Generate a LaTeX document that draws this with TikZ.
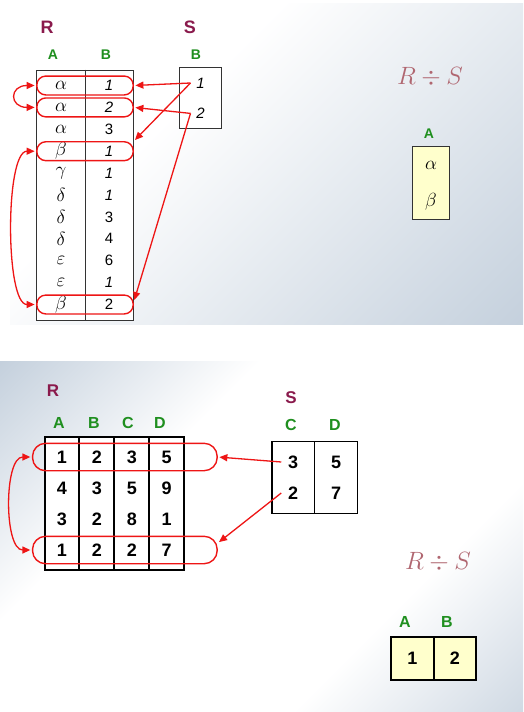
\documentclass[tikz,border=0pt]{standalone}
\usepackage{fix-cm}
\usepackage{fontspec}
\setmainfont{Liberation Sans}
\usetikzlibrary{chains,fit,positioning,arrows.meta,backgrounds}

\definecolor{relname}{HTML}{8A1A4C}
\definecolor{attrgreen}{HTML}{1F8F1F}
\definecolor{markred}{HTML}{EE1515}
\definecolor{divrose}{HTML}{B06670}
\definecolor{resyellow}{HTML}{FFFFCC}
\definecolor{panelblue}{HTML}{C3CFDC}
\definecolor{framegrey}{HTML}{333333}

\pgfdeclarehorizontalshading{toppanel}{100bp}{color(0bp)=(white); color(40bp)=(white); color(80bp)=(panelblue); color(100bp)=(panelblue)}
\pgfdeclarehorizontalshading{botpanel}{100bp}{color(0bp)=(panelblue); color(20bp)=(panelblue); color(38bp)=(white); color(64bp)=(white); color(80bp)=(panelblue!80); color(100bp)=(panelblue!80)}

\begin{document}
\begin{tikzpicture}[x=1pt,y=-1pt]

\tikzstyle{cell}=[inner sep=0pt,minimum width=48pt,minimum height=21.5pt,font=\fontsize{15}{15}\selectfont]
\tikzstyle{gcell}=[cell,font=\fontsize{19}{19}\selectfont]
\tikzstyle{scell}=[inner sep=0pt,minimum width=41pt,minimum height=30pt,font=\fontsize{15}{15}\selectfont]
\tikzstyle{bcell}=[inner sep=0pt,minimum width=34.5pt,minimum height=31pt,font=\fontsize{18}{18}\selectfont\bfseries]
\tikzstyle{tcell}=[inner sep=0pt,minimum width=42.5pt,minimum height=31pt,font=\fontsize{18}{18}\selectfont\bfseries]
\tikzstyle{relnametop}=[text=relname,font=\fontsize{18}{18}\selectfont\bfseries]
\tikzstyle{relnamebot}=[text=relname,font=\fontsize{17}{17}\selectfont\bfseries]
\tikzstyle{hdrtop}=[text=attrgreen,font=\fontsize{14}{14}\selectfont\bfseries]
\tikzstyle{hdrbot}=[text=attrgreen,font=\fontsize{16}{16}\selectfont\bfseries]
\tikzstyle{quotient}=[text=divrose,font=\fontsize{25}{25}\selectfont]
\tikzstyle{rowmark}=[draw=markred,line width=1.4pt,rounded corners=9pt,inner xsep=0pt,inner ysep=-1.5pt]
\tikzstyle{rowmarkbig}=[draw=markred,line width=1.4pt,rounded corners=13pt,inner xsep=22.5pt,inner ysep=-2pt,xshift=10.5pt]
\tikzstyle{markarrow}=[draw=markred,line width=1.3pt,-{Triangle[length=8pt,width=7pt]},shorten >=1.5pt]
\tikzstyle{bothtips}=[{Triangle[length=8pt,width=7pt]}-{Triangle[length=8pt,width=7pt]},shorten <=1.5pt]
\tikzstyle{colbox}=[draw,line width=2pt,inner xsep=0pt,inner ysep=4.5pt]

\useasboundingbox (0,0) rectangle (523,712);

%% panels
\begin{scope}[on background layer]
\begin{scope}
    \clip (10,3) rectangle (523,324);
    \shade[shading=toppanel,shading angle=-45] (10,-93) rectangle (523,420);
\end{scope}
\begin{scope}
    \clip (0,361) rectangle (523,712);
    \shade[shading=botpanel,shading angle=-45] (0,275) rectangle (523,798);
\end{scope}
\end{scope}

%% ---------- upper example ----------
\node (rtop) [relnametop] at (47,27) {R};
\node (stop) [relnametop] at (190,27) {S};
\node (hta) [hdrtop] at (53,55) {A};
\node (htb) [hdrtop] at (106,55) {B};
\node (hsb) [hdrtop] at (196,55) {B};

\begin{scope}[start chain=ra going below,node distance=0pt]
    \node (a1) [on chain=ra,gcell] at (61,85.5) {$\alpha$};
    \node (a2) [on chain=ra,gcell] {$\alpha$};
    \node (a3) [on chain=ra,gcell] {$\alpha$};
    \node (a4) [on chain=ra,gcell] {$\beta$};
    \node (a5) [on chain=ra,gcell] {$\gamma$};
    \node (a6) [on chain=ra,gcell] {$\delta$};
    \node (a7) [on chain=ra,gcell] {$\delta$};
    \node (a8) [on chain=ra,gcell] {$\delta$};
    \node (a9) [on chain=ra,gcell] {$\varepsilon$};
    \node (a10) [on chain=ra,gcell] {$\varepsilon$};
    \node (a11) [on chain=ra,gcell] {$\beta$};
\end{scope}
\begin{scope}[start chain=rb going below,node distance=0pt]
    \node (b1) [on chain=rb,cell] at (109,85.5) {\textit{1}};
    \node (b2) [on chain=rb,cell] {\textit{2}};
    \node (b3) [on chain=rb,cell] {3};
    \node (b4) [on chain=rb,cell] {\textit{1}};
    \node (b5) [on chain=rb,cell] {\textit{1}};
    \node (b6) [on chain=rb,cell] {\textit{1}};
    \node (b7) [on chain=rb,cell] {3};
    \node (b8) [on chain=rb,cell] {4};
    \node (b9) [on chain=rb,cell] {6};
    \node (b10) [on chain=rb,cell] {\textit{1}};
    \node (b11) [on chain=rb,cell] {2};
\end{scope}
\node (rbox) [draw=framegrey,thick,fit=(a1)(b11),inner xsep=0pt,inner ysep=4.5pt] {};
\draw [framegrey,thick] (a1.east |- rbox.north) -- (a1.east |- rbox.south);

\begin{scope}[start chain=sb going below,node distance=0pt]
    \node (s1) [on chain=sb,scell] at (200.5,83) {\textit{1}};
    \node (s2) [on chain=sb,scell] {\textit{2}};
\end{scope}
\node (sbox) [draw=framegrey,thick,fit=(s1)(s2),inner sep=0pt] {};

\node (m1) [rowmark,fit=(a1)(b1)] {};
\node (m2) [rowmark,fit=(a2)(b2)] {};
\node (m3) [rowmark,fit=(a4)(b4)] {};
\node (m4) [rowmark,fit=(a11)(b11)] {};

\draw [markarrow] ([xshift=-10pt]s1.center) -- (m1.east);
\draw [markarrow] ([xshift=-10pt]s2.center) -- (m2.east);
\draw [markarrow] ([xshift=-10pt]s1.center) -- (m3.north east);
\draw [markarrow] ([xshift=-10pt]s2.center) -- ([yshift=3pt]m4.east);
\draw [markarrow,bothtips] (m1.west) .. controls +(-27,0) and +(-27,0) .. (m2.west);
\draw [markarrow,bothtips] (m3.west) .. controls +(-31,0) and +(-31,0) .. (m4.west);

\node (quot1) [quotient] at (430,77) {$R\div S$};
\node (hqa) [hdrtop] at (429,134) {A};
\begin{scope}[start chain=qa going below,node distance=0pt]
    \node (q1) [on chain=qa,gcell,minimum width=36pt,minimum height=36pt,fill=resyellow] at (431,165) {$\alpha$};
    \node (q2) [on chain=qa,gcell,minimum width=36pt,minimum height=36pt,fill=resyellow] {$\beta$};
\end{scope}
\node (qbox) [draw=framegrey,thick,fit=(q1)(q2),inner sep=0pt] {};

%% ---------- lower example ----------
\node (rbot) [relnamebot] at (53,391) {R};
\node (sbot) [relnamebot] at (291,398) {S};
\node (hba) [hdrbot] at (59,423) {A};
\node (hbb) [hdrbot] at (94,423) {B};
\node (hbc) [hdrbot] at (128,423) {C};
\node (hbd) [hdrbot] at (160,423) {D};
\node (hsc) [hdrbot] at (291,425) {C};
\node (hsd) [hdrbot] at (335,425) {D};

\begin{scope}[start chain=row1 going right,node distance=0pt]
    \node (c11) [on chain=row1,bcell] at (62,457) {1};
    \node (c12) [on chain=row1,bcell] {2};
    \node (c13) [on chain=row1,bcell] {3};
    \node (c14) [on chain=row1,bcell] {5};
\end{scope}
\begin{scope}[start chain=row2 going right,node distance=0pt]
    \node (c21) [on chain=row2,bcell] at (62,488) {4};
    \node (c22) [on chain=row2,bcell] {3};
    \node (c23) [on chain=row2,bcell] {5};
    \node (c24) [on chain=row2,bcell] {9};
\end{scope}
\begin{scope}[start chain=row3 going right,node distance=0pt]
    \node (c31) [on chain=row3,bcell] at (62,519) {3};
    \node (c32) [on chain=row3,bcell] {2};
    \node (c33) [on chain=row3,bcell] {8};
    \node (c34) [on chain=row3,bcell] {1};
\end{scope}
\begin{scope}[start chain=row4 going right,node distance=0pt]
    \node (c41) [on chain=row4,bcell] at (62,550) {1};
    \node (c42) [on chain=row4,bcell] {2};
    \node (c43) [on chain=row4,bcell] {2};
    \node (c44) [on chain=row4,bcell] {7};
\end{scope}
\node (col1) [colbox,fit=(c11)(c41)] {};
\node (col2) [colbox,fit=(c12)(c42)] {};
\node (col3) [colbox,fit=(c13)(c43)] {};
\node (col4) [colbox,fit=(c14)(c44)] {};

\begin{scope}[start chain=srow1 going right,node distance=0pt]
    \node (t11) [on chain=srow1,tcell] at (293.25,462) {3};
    \node (t12) [on chain=srow1,tcell] {5};
\end{scope}
\begin{scope}[start chain=srow2 going right,node distance=0pt]
    \node (t21) [on chain=srow2,tcell] at (293.25,493) {2};
    \node (t22) [on chain=srow2,tcell] {7};
\end{scope}
\node (scol1) [colbox,line width=1.5pt,fit=(t11)(t21),inner ysep=5pt] {};
\node (scol2) [colbox,line width=1.5pt,fit=(t12)(t22),inner ysep=5pt] {};

%% white table faces
\begin{scope}[on background layer]
    \fill [white] (rbox.north west) rectangle (rbox.south east);
    \fill [white] (sbox.north west) rectangle (sbox.south east);
    \fill [white] (col1.north west) rectangle (col4.south east);
    \fill [white] (scol1.north west) rectangle (scol2.south east);
\end{scope}

\node (n1) [rowmarkbig,fit=(c11)(c14)] {};
\node (n2) [rowmarkbig,fit=(c41)(c44)] {};

\draw [markarrow] ([xshift=-12pt]t11.center) -- (n1.east);
\draw [markarrow] ([xshift=-12pt]t21.center) -- ([yshift=7pt]n2.east);
\draw [markarrow,bothtips] (n1.west) .. controls +(-28,0) and +(-28,0) .. (n2.west);

\node (quot2) [quotient] at (438,562) {$R\div S$};
\node (hpa) [hdrbot] at (405,622) {A};
\node (hpb) [hdrbot] at (447,622) {B};
\begin{scope}[start chain=pres going right,node distance=0pt]
    \node (p1) [on chain=pres,bcell,minimum width=42pt,minimum height=43pt,fill=resyellow] at (412.5,658.5) {1};
    \node (p2) [on chain=pres,bcell,minimum width=42pt,minimum height=43pt,fill=resyellow] {2};
\end{scope}
\node (pbox1) [colbox,fit=(p1),inner ysep=0pt] {};
\node (pbox2) [colbox,fit=(p2),inner ysep=0pt] {};

\end{tikzpicture}
\end{document}
